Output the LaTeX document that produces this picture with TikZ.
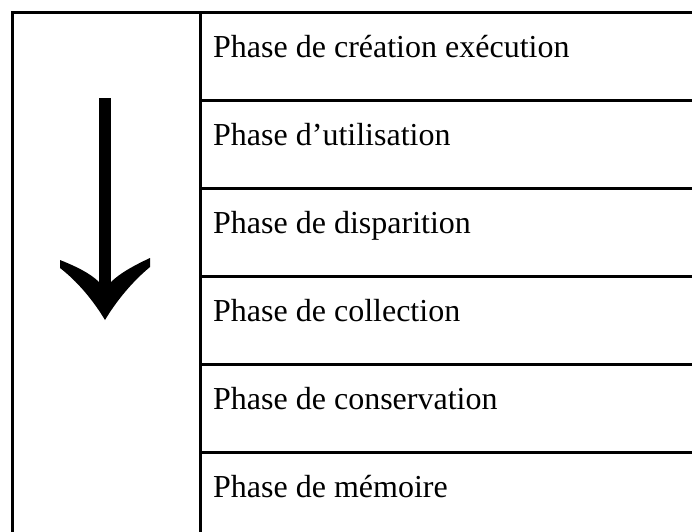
\documentclass[tikz,border=0pt]{standalone}
\usepackage{fontspec}
\setmainfont{Liberation Serif}

\begin{document}
\begin{tikzpicture}[x=1pt,y=-1pt,
    phase/.style={anchor=base west, inner sep=0pt, font=\fontsize{32}{38}\selectfont},
    rule/.style={black, line width=3pt}]
    \useasboundingbox (0,0) rectangle (692,531);
    \clip (0,0) rectangle (692,531);
    % First, draw the frame of the table and the row rules
    \draw [rule] (12,560) -- (12,12) -- (720,12);
    \draw [rule] (200,12) -- (200,560);
    \draw [rule] (200,100) -- (720,100);
    \draw [rule] (200,188) -- (720,188);
    \draw [rule] (200,276) -- (720,276);
    \draw [rule] (200,364) -- (720,364);
    \draw [rule] (200,452) -- (720,452);
    % Now locate each of the phases and name them
    \node [phase] (creation) at (213,57) {Phase de création exécution};
    \node [phase] (utilisation) at (213,145) {Phase d’utilisation};
    \node [phase] (disparition) at (213,233) {Phase de disparition};
    \node [phase] (collection) at (213,321) {Phase de collection};
    \node [phase] (conservation) at (213,409) {Phase de conservation};
    \node [phase] (memoire) at (213,497) {Phase de mémoire};
    % The big arrow in the left column
    \coordinate (arrowtop) at (105,98);
    \coordinate (arrowneck) at (105,284);
    \coordinate (arrowtip) at (105,320);
    \draw [black, line width=12pt] (arrowtop) -- (arrowneck);
    \fill [black] (arrowtip) .. controls (93,300) and (77,281) .. (60,268) -- (60,260)
        .. controls (75,266) and (90,273) .. (99,282) -- (111,282)
        .. controls (120,273) and (135,265) .. (150,258) -- (150,267)
        .. controls (133,281) and (117,300) .. (arrowtip) -- cycle;
\end{tikzpicture}
\end{document}
